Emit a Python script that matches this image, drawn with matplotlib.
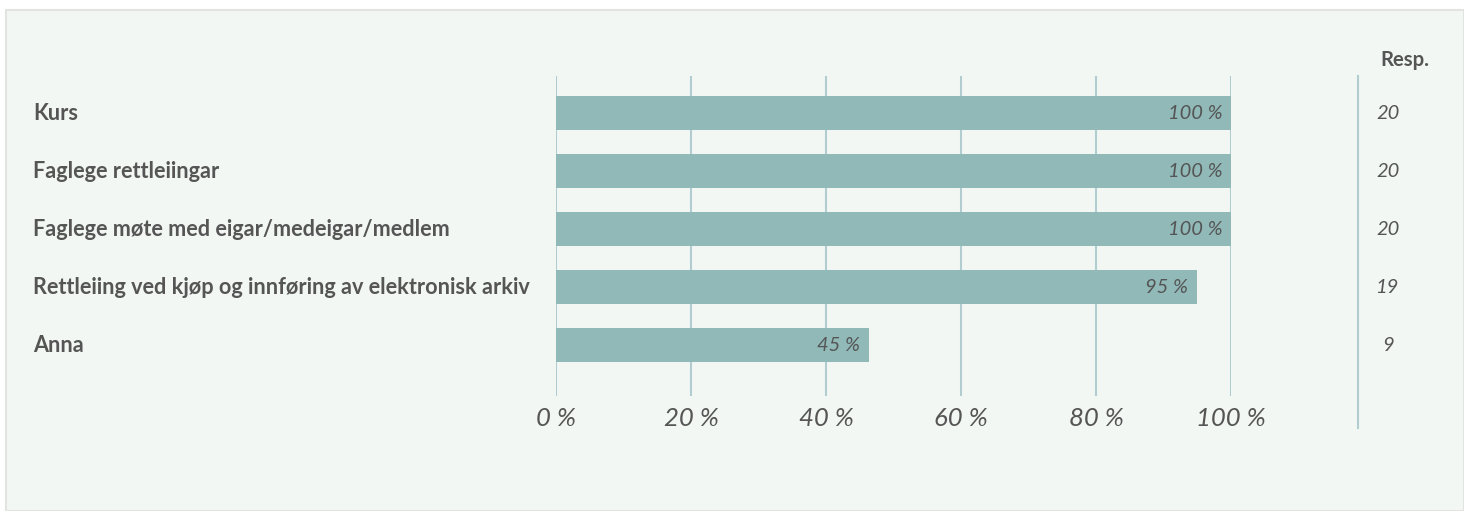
import matplotlib.pyplot as plt
import matplotlib.transforms as mtransforms
from matplotlib.patches import Rectangle
from matplotlib.lines import Line2D

categories = ['Kurs', 'Faglege rettleiingar', 'Faglege møte med eigar/medeigar/medlem',
              'Rettleiing ved kjøp og innføring av elektronisk arkiv', 'Anna']
values = [100, 100, 100, 95, 46.4]
value_labels = ['100 %', '100 %', '100 %', '95 %', '45 %']
responses = [20, 20, 20, 19, 9]
xticks = [0, 20, 40, 60, 80, 100]
xticklabels = ['0 %', '20 %', '40 %', '60 %', '80 %', '100 %']

plt.rcParams['font.family'] = ['Lato', 'DejaVu Sans']
text_col = '#555555'
bar_col = '#90b9b8'
grid_col = '#b2cdd0'

W, H = 1464, 511
fig = plt.figure(figsize=(W / 100, H / 100), dpi=100, facecolor='white')

# panel background
fig.add_artist(Rectangle((6 / W, 0), 1 - 6 / W, 1 - 10 / H, transform=fig.transFigure,
                         facecolor='#f2f7f4', edgecolor='#e2e4e2', linewidth=1.5, zorder=0))

ax = fig.add_axes([556 / W, 1 - 396 / H, (1231 - 556) / W, 320 / H])
ax.patch.set_visible(False)
for s in ax.spines.values():
    s.set_visible(False)

y = list(range(len(categories)))
ax.barh(y, values, height=34 / 58, color=bar_col, zorder=2)
ax.set_xlim(0, 100)
ax.set_ylim(4 + 51 / 58, -37 / 58)
ax.set_xticks(xticks)
ax.set_xticklabels(xticklabels, fontsize=18.5, style='italic', color=text_col)
ax.tick_params(axis='x', length=0, pad=8)
ax.set_yticks([])
ax.grid(axis='x', color=grid_col, linewidth=1.5, zorder=1)

for yi, v, lab in zip(y, values, value_labels):
    ax.text(v - 1.3, yi, lab, ha='right', va='center', fontsize=14.5,
            style='italic', color=text_col, zorder=3)

trans = mtransforms.blended_transform_factory(fig.transFigure, ax.transData)
for yi, cat, r in zip(y, categories, responses):
    ax.text(33 / W, yi, cat, transform=trans, ha='left', va='center',
            fontsize=15.6, fontweight='bold', color=text_col)
    ax.text(1388 / W, yi, str(r), transform=trans, ha='center', va='center',
            fontsize=14.5, style='italic', color=text_col)

fig.text(1405 / W, 1 - 60 / H, 'Resp.', ha='center', va='center',
         fontsize=14.6, fontweight='bold', color=text_col)

fig.add_artist(Line2D([1358 / W, 1358 / W], [1 - 76 / H, 1 - 428 / H],
                      transform=fig.transFigure, color=grid_col, linewidth=1.5))

fig.savefig('out.png', dpi=100, facecolor='white')
